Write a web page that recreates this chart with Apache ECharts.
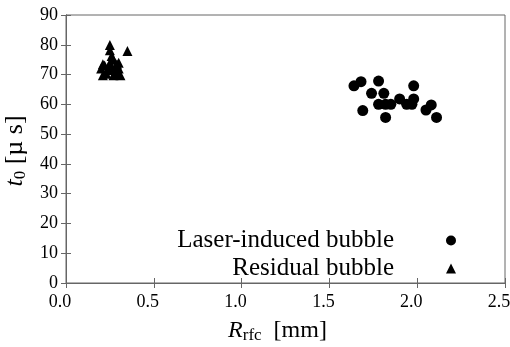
<!DOCTYPE html>
<html><head><meta charset="utf-8">
<script src="https://cdn.jsdelivr.net/npm/echarts@6/dist/echarts.min.js"></script>
<style>html,body{margin:0;padding:0;background:#fff}#c{width:510px;height:347px}</style>
</head><body><div id="c"></div>
<script>
const laserX = [1.64,1.68,1.78,1.74,1.81,1.69,1.78,1.82,1.85,1.82,1.90,1.94,1.98,1.98,1.97,2.05,2.08,2.11];
const laserY = [66.2,67.6,67.8,63.7,63.7,57.9,60.0,60.0,60.0,55.6,61.8,60.0,66.2,61.8,60.0,58.1,59.8,55.6];
const residX = [0.25,0.25,0.35,0.26,0.21,0.25,0.29,0.20,0.24,0.30,0.21,0.27,0.31,0.23,0.29,0.26,0.28,0.22,0.30,0.27];
const residY = [79.9,78.2,77.9,76.2,73.5,73.9,73.5,72.0,72.0,72.0,69.8,69.8,69.8,70.3,70.3,71.5,72.5,73.0,74.0,75.0];
const xTicks = [0,0.5,1.0,1.5,2.0,2.5];
const yTicks = [0,10,20,30,40,50,60,70,80,90];
const legendNames = ['Laser-induced bubble','Residual bubble'];

const font = '"Liberation Serif", "Times New Roman", serif';
const lineCol = '#666';
const pair = (xs, ys) => xs.map((x, i) => [x, ys[i]]);
const chart = echarts.init(document.getElementById('c'));
const axBase = {
  axisLine: {show: true, lineStyle: {color: lineCol, width: 1}},
  axisTick: {show: true, inside: true, length: 5, lineStyle: {color: lineCol}},
  splitLine: {show: false}
};
chart.setOption({
  animation: false,
  backgroundColor: '#fff',
  grid: {left: 66, right: 5, top: 15, bottom: 64, outerBoundsMode: 'none', containLabel: false,
    show: true, borderColor: lineCol, borderWidth: 1, backgroundColor: 'transparent'},
  xAxis: [
    Object.assign({}, axBase, {
      type: 'value', min: xTicks[0], max: xTicks[xTicks.length-1], interval: 0.5,
      position: 'bottom',
      axisLabel: {color: '#000', fontFamily: font, fontSize: 18, margin: 10,
        padding: [0, 12, 0, 0], formatter: v => v.toFixed(1)},
      name: '{i|R}{s|rfc}{n|  [mm]}', nameLocation: 'middle', nameGap: 34,
      nameTextStyle: {padding: [0, 16, 0, 0], rich: {
        i: {fontFamily: font, fontStyle: 'italic', fontSize: 24, color: '#000'},
        s: {fontFamily: font, fontSize: 17, color: '#000', padding: [10,0,0,0]},
        n: {fontFamily: font, fontSize: 24, color: '#000'}
      }}
    }),
    Object.assign({}, axBase, {
      type: 'value', min: 0, max: 2.5, interval: 0.5, position: 'top',
      axisLabel: {show: false}
    })
  ],
  yAxis: [
    Object.assign({}, axBase, {
      type: 'value', min: yTicks[0], max: yTicks[yTicks.length-1], interval: 10,
      position: 'left',
      axisLabel: {color: '#000', fontFamily: font, fontSize: 18, margin: 8},
      name: '{i|t}{s|0}{n| [µ s]}', nameLocation: 'middle', nameGap: 34, nameRotate: 90,
      nameTextStyle: {padding: [0, 4, 0, 0], rich: {
        i: {fontFamily: font, fontStyle: 'italic', fontSize: 26, color: '#000'},
        s: {fontFamily: font, fontSize: 17, color: '#000', padding: [11,0,0,0]},
        n: {fontFamily: font, fontSize: 26, color: '#000'}
      }}
    }),
    Object.assign({}, axBase, {
      type: 'value', min: 0, max: 90, interval: 10, position: 'right',
      axisLabel: {show: false}
    })
  ],
  legend: {
    orient: 'vertical', right: 49, top: 223, align: 'right', itemGap: 3,
    itemWidth: 10, itemHeight: 10,
    textStyle: {fontFamily: font, fontSize: 25, color: '#000', padding: [0, 47, 0, 0]},
    data: [
      {name: legendNames[0], icon: 'circle'},
      {name: legendNames[1], icon: 'triangle'}
    ]
  },
  series: [
    {name: legendNames[0], type: 'scatter', symbol: 'circle', symbolSize: 11,
     itemStyle: {color: '#000', opacity: 1}, data: pair(laserX, laserY)},
    {name: legendNames[1], type: 'scatter', symbol: 'triangle', symbolSize: 10,
     itemStyle: {color: '#000', opacity: 1}, data: pair(residX, residY)}
  ]
});
</script></body></html>
